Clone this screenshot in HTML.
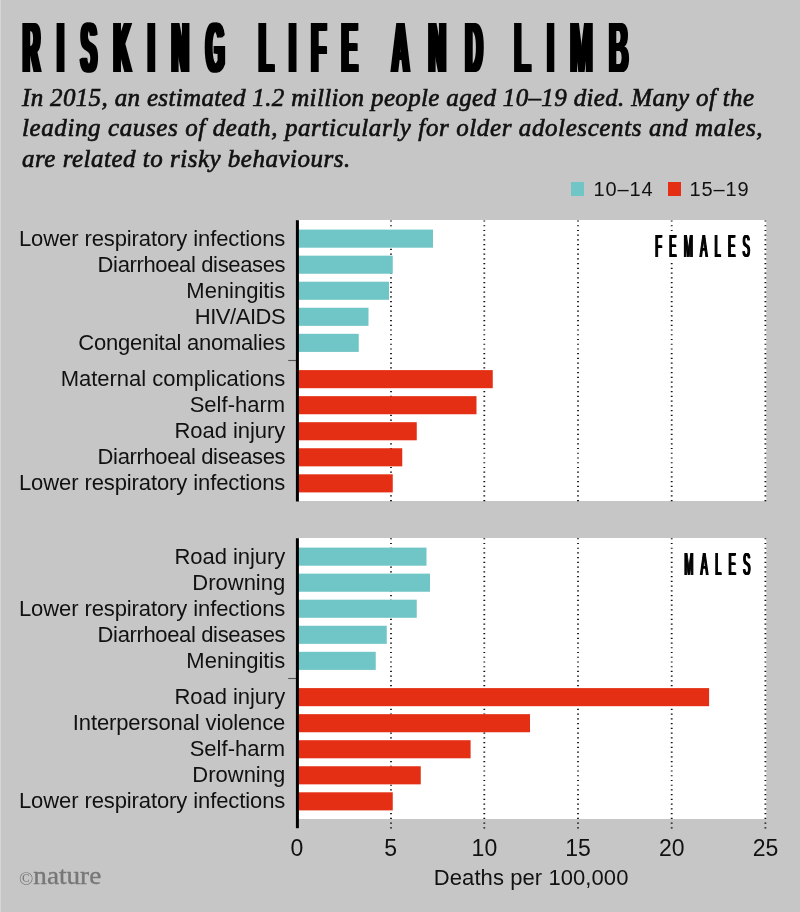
<!DOCTYPE html>
<html lang="en">
<head>
<meta charset="utf-8">
<title>Risking life and limb</title>
<style>
html,body{margin:0;padding:0;}
body{width:800px;height:912px;background:#c6c6c6;position:relative;overflow:hidden;font-family:"Liberation Sans",sans-serif;color:#111;}
#chart{position:absolute;left:0;top:0;}
.dot{stroke:#111;stroke-width:1.8;stroke-dasharray:1.2 3.54;}
h1{position:absolute;left:0;top:8px;margin:0;width:800px;height:80px;font-family:"Liberation Sans",sans-serif;font-weight:bold;font-size:70.5px;line-height:80px;white-space:nowrap;color:#000;}
h1 span{position:absolute;top:0;display:block;transform-origin:0 0;transform:scaleX(0.335);text-shadow:-6.7px 0 0 #000,-3.35px 0 0 #000,3.35px 0 0 #000,6.7px 0 0 #000;}
.sub{position:absolute;left:22px;top:83px;margin:0;font-family:"Liberation Serif",serif;font-style:italic;font-size:25px;line-height:30.4px;white-space:nowrap;color:#111;-webkit-text-stroke:0.65px #111;}
.legend{position:absolute;top:176px;font-size:20px;line-height:26px;white-space:nowrap;letter-spacing:0.85px;}
.sw{position:absolute;width:13.75px;height:13.75px;top:182px;}
.lab{position:absolute;right:514.8px;font-size:22px;line-height:30px;height:30px;white-space:nowrap;text-align:right;}
.tick{position:absolute;top:832.5px;width:60px;text-align:center;font-size:23px;line-height:30px;}
.xt{letter-spacing:0.08px;position:absolute;left:433.8px;top:863px;font-size:22px;line-height:30px;white-space:nowrap;}
.ptitle{position:absolute;font-weight:normal;font-size:30.9px;line-height:32px;white-space:nowrap;transform-origin:100% 0;transform:scaleX(0.35);letter-spacing:21px;color:#000;
 text-shadow:-2.43px 0 0 #000,-1.21px 0 0 #000,1.21px 0 0 #000,2.43px 0 0 #000;}
.nat{position:absolute;left:18.7px;top:861.2px;font-family:"Liberation Serif",serif;font-size:26px;line-height:30px;color:#777;white-space:nowrap;transform-origin:0 0;transform:scaleX(1.045);-webkit-text-stroke:0.35px #777;}
.nat span{font-size:18px;position:relative;top:1px;-webkit-text-stroke:0;}
</style>
</head>
<body>
<svg id="chart" width="800" height="912" viewBox="0 0 800 912">
<rect x="0" y="0" width="1" height="912" fill="#d6d6d6"/>
<rect x="297" y="220" width="469.3" height="281" fill="#fff"/>
<rect x="288.2" y="359.95" width="8" height="1.1" fill="#555"/>
<rect x="297" y="538" width="469.3" height="281" fill="#fff"/>
<rect x="288.2" y="677.95" width="8" height="1.1" fill="#555"/>
<line x1="391.00" y1="220.4" x2="391.00" y2="502" class="dot"/>
<line x1="391.00" y1="538.15" x2="391.00" y2="829" class="dot"/>
<line x1="484.30" y1="220.4" x2="484.30" y2="502" class="dot"/>
<line x1="484.30" y1="538.15" x2="484.30" y2="829" class="dot"/>
<line x1="578.00" y1="220.4" x2="578.00" y2="502" class="dot"/>
<line x1="578.00" y1="538.15" x2="578.00" y2="829" class="dot"/>
<line x1="671.70" y1="220.4" x2="671.70" y2="502" class="dot"/>
<line x1="671.70" y1="538.15" x2="671.70" y2="829" class="dot"/>
<line x1="765.40" y1="220.4" x2="765.40" y2="502" class="dot"/>
<line x1="765.40" y1="538.15" x2="765.40" y2="829" class="dot"/>
<rect x="298" y="229.60" width="135.00" height="18.1" fill="#70c5c6"/>
<rect x="298" y="255.65" width="94.75" height="18.1" fill="#70c5c6"/>
<rect x="298" y="281.70" width="91.00" height="18.1" fill="#70c5c6"/>
<rect x="298" y="307.75" width="70.50" height="18.1" fill="#70c5c6"/>
<rect x="298" y="333.80" width="60.75" height="18.1" fill="#70c5c6"/>
<rect x="298" y="370.10" width="194.75" height="18.1" fill="#e42f14"/>
<rect x="298" y="396.15" width="178.50" height="18.1" fill="#e42f14"/>
<rect x="298" y="422.20" width="118.75" height="18.1" fill="#e42f14"/>
<rect x="298" y="448.25" width="104.25" height="18.1" fill="#e42f14"/>
<rect x="298" y="474.30" width="94.75" height="18.1" fill="#e42f14"/>
<rect x="298" y="547.60" width="128.50" height="18.1" fill="#70c5c6"/>
<rect x="298" y="573.65" width="132.00" height="18.1" fill="#70c5c6"/>
<rect x="298" y="599.70" width="118.75" height="18.1" fill="#70c5c6"/>
<rect x="298" y="625.75" width="88.75" height="18.1" fill="#70c5c6"/>
<rect x="298" y="651.80" width="77.75" height="18.1" fill="#70c5c6"/>
<rect x="298" y="688.10" width="411.10" height="18.1" fill="#e42f14"/>
<rect x="298" y="714.15" width="232.00" height="18.1" fill="#e42f14"/>
<rect x="298" y="740.20" width="172.60" height="18.1" fill="#e42f14"/>
<rect x="298" y="766.25" width="122.75" height="18.1" fill="#e42f14"/>
<rect x="298" y="792.30" width="94.75" height="18.1" fill="#e42f14"/>
<rect x="651" y="231" width="104" height="31.5" fill="#fff"/>
<rect x="295.9" y="220.2" width="3" height="281.3" fill="#000"/>
<rect x="295.9" y="538.2" width="3" height="290" fill="#000"/>
</svg>
<h1><span style="left:23px;letter-spacing:51.2px">RISKING</span> <span style="left:258.5px;letter-spacing:47.1px">LIFE</span> <span style="left:392px;letter-spacing:58.9px">AND</span> <span style="left:514.3px;letter-spacing:40.6px;transform:scaleX(0.39);text-shadow:-4.49px 0 0 #000,-2.24px 0 0 #000,2.24px 0 0 #000,4.49px 0 0 #000">LIMB</span></h1>
<p class="sub"><span style="letter-spacing:0.34px">In 2015, an estimated 1.2 million people aged 10–19 died. Many of the</span><br><span style="letter-spacing:0.6px">leading causes of death, particularly for older adolescents and males,</span><br><span style="letter-spacing:0.5px">are related to risky behaviours.</span></p>
<div class="sw" style="left:570.5px;background:#70c5c6"></div>
<div class="legend" style="left:593.5px">10–14</div>
<div class="sw" style="left:667.5px;background:#e42f14"></div>
<div class="legend" style="left:689.5px">15–19</div>
<div class="lab" style="top:223.60px;letter-spacing:-0.1px">Lower respiratory infections</div>
<div class="lab" style="top:249.60px;letter-spacing:-0.36px">Diarrhoeal diseases</div>
<div class="lab" style="top:275.60px;letter-spacing:-0.02px">Meningitis</div>
<div class="lab" style="top:301.60px;letter-spacing:-0.46px">HIV/AIDS</div>
<div class="lab" style="top:327.60px;letter-spacing:-0.23px">Congenital anomalies</div>
<div class="lab" style="top:363.60px;letter-spacing:-0.02px">Maternal complications</div>
<div class="lab" style="top:389.60px;letter-spacing:0.02px">Self-harm</div>
<div class="lab" style="top:415.60px;letter-spacing:-0.05px">Road injury</div>
<div class="lab" style="top:441.60px;letter-spacing:-0.36px">Diarrhoeal diseases</div>
<div class="lab" style="top:467.60px;letter-spacing:-0.1px">Lower respiratory infections</div>
<div class="lab" style="top:541.60px;letter-spacing:-0.05px">Road injury</div>
<div class="lab" style="top:567.60px;letter-spacing:-0.01px">Drowning</div>
<div class="lab" style="top:593.60px;letter-spacing:-0.1px">Lower respiratory infections</div>
<div class="lab" style="top:619.60px;letter-spacing:-0.36px">Diarrhoeal diseases</div>
<div class="lab" style="top:645.60px;letter-spacing:-0.02px">Meningitis</div>
<div class="lab" style="top:681.60px;letter-spacing:-0.05px">Road injury</div>
<div class="lab" style="top:707.60px;letter-spacing:-0.13px">Interpersonal violence</div>
<div class="lab" style="top:733.60px;letter-spacing:0.02px">Self-harm</div>
<div class="lab" style="top:759.60px;letter-spacing:-0.01px">Drowning</div>
<div class="lab" style="top:785.60px;letter-spacing:-0.1px">Lower respiratory infections</div>
<div class="ptitle" style="right:42.4px;top:230.7px">FEMALES</div>
<div class="ptitle" style="right:42.4px;top:548.7px">MALES</div>
<div class="tick" style="left:267.00px">0</div>
<div class="tick" style="left:360.70px">5</div>
<div class="tick" style="left:454.40px">10</div>
<div class="tick" style="left:548.10px">15</div>
<div class="tick" style="left:641.80px">20</div>
<div class="tick" style="left:735.50px">25</div>
<div class="xt">Deaths per 100,000</div>
<div class="nat"><span>©</span>nature</div>
</body>
</html>
